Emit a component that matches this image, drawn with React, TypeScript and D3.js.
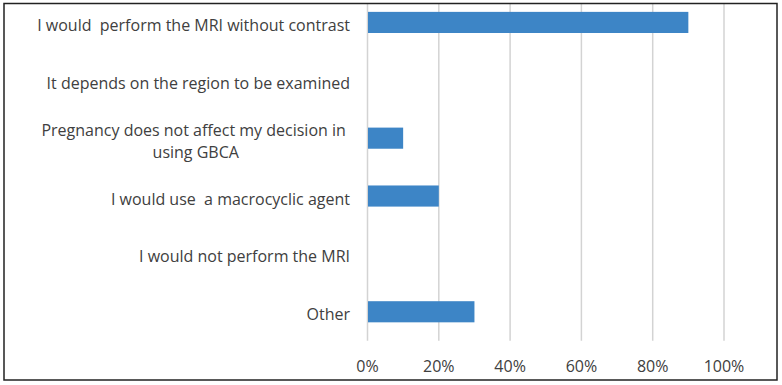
import React, { useEffect, useRef } from "react";
import * as d3 from "d3";

const categories: string[][] = [
  ["I would  perform the MRI without contrast"],
  ["It depends on the region to be examined"],
  ["Pregnancy does not affect my decision in ", "using GBCA"],
  ["I would use  a macrocyclic agent"],
  ["I would not perform the MRI"],
  ["Other"],
];
const values: number[] = [90, 0, 10, 20, 0, 30];
const tickValues: number[] = [0, 20, 40, 60, 80, 100];

const W = 782;
const H = 385;
const FONT = "'Open Sans', sans-serif";
const TEXT = "#404040";
const FS = 16;

export default function App() {
  const ref = useRef<SVGSVGElement | null>(null);

  useEffect(() => {
    const svg = d3.select(ref.current);
    svg.selectAll("*").remove();

    const x = d3.scaleLinear().domain([0, 100]).range([367.5, 724]);
    const y = d3
      .scaleBand<number>()
      .domain(d3.range(categories.length))
      .range([-6.5, 340.7])
      .paddingInner(0.635)
      .paddingOuter(0.3175);

    svg.append("rect").attr("x", 0).attr("y", 0).attr("width", W).attr("height", H).attr("fill", "#fff");

    // gridlines
    svg
      .append("g")
      .selectAll("line")
      .data(tickValues)
      .join("line")
      .attr("x1", (d) => x(d))
      .attr("x2", (d) => x(d))
      .attr("y1", 4)
      .attr("y2", 340.7)
      .attr("stroke", "#d3d3d3")
      .attr("stroke-width", 1.5);

    // bars
    svg
      .append("g")
      .selectAll("rect")
      .data(values)
      .join("rect")
      .attr("x", x(0) + 0.5)
      .attr("y", (_, i) => y(i)!)
      .attr("width", (d) => Math.max(0, x(d) - x(0) - 0.5))
      .attr("height", y.bandwidth())
      .attr("fill", "#3d85c6");

    // tick labels
    svg
      .append("g")
      .selectAll("text")
      .data(tickValues)
      .join("text")
      .attr("x", (d) => x(d))
      .attr("y", 372)
      .attr("text-anchor", "middle")
      .attr("font-family", FONT)
      .attr("font-size", FS)
      .attr("fill", TEXT)
      .text((d) => `${d}%`);

    // category labels
    const labelRight = 350;
    const lineH = 22;
    categories.forEach((lines, i) => {
      const cy = y(i)! + y.bandwidth() / 2 + 3;
      const g = svg.append("g");
      const texts = lines.map((line, j) =>
        g
          .append("text")
          .attr("y", cy + 5.5 + (j - (lines.length - 1) / 2) * lineH)
          .attr("font-family", FONT)
          .attr("font-size", FS)
          .attr("fill", TEXT)
          .style("white-space", "pre")
          .attr("text-anchor", "middle")
          .text(line)
      );
      const widths = texts.map((t) => (t.node() as SVGTextElement).getComputedTextLength());
      const maxW = Math.max(...widths);
      texts.forEach((t) => t.attr("x", labelRight - maxW / 2));
    });

    // frame
    svg
      .append("rect")
      .attr("x", 4)
      .attr("y", 3.5)
      .attr("width", 773)
      .attr("height", 376.5)
      .attr("fill", "none")
      .attr("stroke", "#222")
      .attr("stroke-width", 1.5);
  }, []);

  return (
    <svg
      ref={ref}
      width={W}
      height={H}
      style={{ position: "absolute", left: 0, top: 0, display: "block" }}
    />
  );
}
